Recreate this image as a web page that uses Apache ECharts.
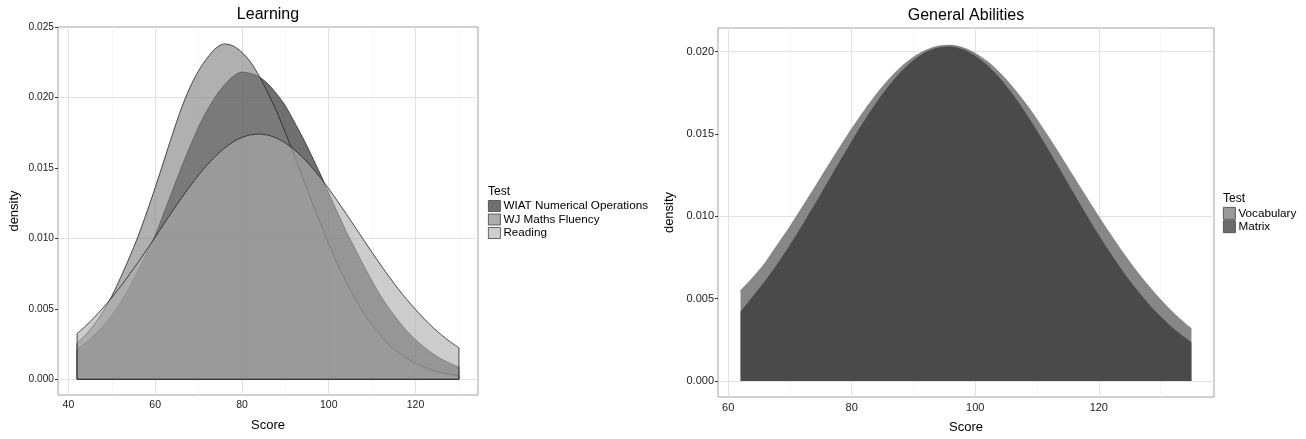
<!DOCTYPE html>
<html>
<head>
<meta charset="utf-8">
<script src="https://cdn.jsdelivr.net/npm/echarts@6/dist/echarts.min.js"></script>
<style>
html,body{margin:0;padding:0;background:#ffffff;}
#chart{width:1306px;height:439px;}
</style>
</head>
<body>
<div id="chart"></div>
<script>
// ---------- Learning panel data ----------
const learningScores = [42,44,46,48,50,52,54,56,58,60,62,64,66,68,70,72,74,76,78,80,82,84,86,88,90,92,94,96,98,100,102,104,106,108,110,112,114,116,118,120,122,124,126,128,130];
const wiatNumerical = [0.00215,0.0026,0.00315,0.0038,0.00455,0.00545,0.0065,0.0077,0.0089,0.0102,0.0118,0.0134,0.0150,0.0165,0.0179,0.0191,0.0201,0.0209,0.0215,0.0218,0.0217,0.02145,0.02095,0.02025,0.0194,0.0183,0.01715,0.0159,0.0146,0.0132,0.01185,0.0105,0.0093,0.0081,0.00695,0.0059,0.00498,0.00416,0.00343,0.0028,0.00227,0.00181,0.00143,0.00112,0.00087];
const wjMathsFluency = [0.00255,0.00315,0.0039,0.0048,0.0059,0.0072,0.0086,0.0101,0.0118,0.0136,0.0155,0.0174,0.0192,0.0207,0.0219,0.0228,0.0235,0.0238,0.02365,0.0232,0.0225,0.0215,0.0203,0.0190,0.0175,0.0159,0.0143,0.0127,0.0111,0.0096,0.0082,0.0069,0.00575,0.00473,0.00384,0.00308,0.00243,0.0019,0.00147,0.00112,0.00084,0.00063,0.00046,0.00033,0.00024];
const reading = [0.00324,0.00379,0.0044,0.00507,0.0058,0.00658,0.00741,0.00828,0.00917,0.01009,0.01102,0.01194,0.01283,0.01369,0.01449,0.01522,0.01586,0.01641,0.01685,0.01716,0.01735,0.0174,0.01732,0.01711,0.01677,0.01631,0.01574,0.01508,0.01434,0.01352,0.01265,0.01175,0.01083,0.00991,0.00899,0.0081,0.00724,0.00642,0.00566,0.00495,0.00429,0.00368,0.00314,0.00266,0.00223];
const learningXTicks = [40,60,80,100,120];
const learningXMinor = [50,70,90,110,130];
const learningYTicks = [0,0.005,0.010,0.015,0.020,0.025];
const learningYMinor = [0.0025,0.0075,0.0125,0.0175,0.0225];
const learningNames = ['WIAT Numerical Operations','WJ Maths Fluency','Reading'];

// ---------- General Abilities panel data ----------
const abilityScores = [62,64,66,68,70,72,74,76,78,80,82,84,86,88,90,92,94,96,98,100,102,104,106,108,110,112,114,116,118,120,122,124,126,128,130,132,134,135];
const vocabulary = [0.0055,0.0063,0.0072,0.0083,0.0094,0.01058,0.01177,0.01298,0.01417,0.01533,0.01642,0.01743,0.01832,0.01908,0.01968,0.0201,0.02035,0.0204,0.02025,0.01991,0.0194,0.01872,0.01789,0.01694,0.01589,0.01476,0.01358,0.01237,0.01117,0.00999,0.00885,0.00776,0.00674,0.00581,0.00495,0.00418,0.0035,0.0032];
const matrix = [0.0042,0.00514,0.00608,0.00712,0.00825,0.00945,0.0107,0.01199,0.01328,0.01455,0.01577,0.0169,0.01791,0.01878,0.01947,0.01996,0.02024,0.0203,0.02013,0.01974,0.01915,0.01837,0.01743,0.01635,0.01517,0.01392,0.01264,0.01134,0.01007,0.00884,0.00768,0.00659,0.0056,0.0047,0.00391,0.00321,0.00261,0.00234];
const abilityXTicks = [60,80,100,120];
const abilityXMinor = [70,90,110,130];
const abilityYTicks = [0,0.005,0.010,0.015,0.020];
const abilityYMinor = [0.0025,0.0075,0.0125,0.0175];
const abilityNames = ['Vocabulary','Matrix'];

// ---------- helpers ----------
const FONT = 'Liberation Sans, Arial, Helvetica, sans-serif';

function gridLines(xMajor, xMinor, yMajor, yMinor) {
  const major = {color: '#e2e2e2', width: 1.1, type: 'solid'};
  const minor = {color: '#f2f2f2', width: 0.7, type: 'solid'};
  const items = [];
  xMinor.forEach(v => items.push({xAxis: v, lineStyle: minor}));
  yMinor.forEach(v => items.push({yAxis: v, lineStyle: minor}));
  xMajor.forEach(v => items.push({xAxis: v, lineStyle: major}));
  yMajor.forEach(v => items.push({yAxis: v, lineStyle: major}));
  return items;
}

function gridSeries(idx, xMajor, xMinor, yMajor, yMinor) {
  return {
    type: 'line', xAxisIndex: idx, yAxisIndex: idx, data: [],
    silent: true, animation: false, z: 1,
    markLine: {
      silent: true, animation: false, z: 1, symbol: ['none', 'none'],
      label: {show: false}, emphasis: {disabled: true},
      data: gridLines(xMajor, xMinor, yMajor, yMinor)
    }
  };
}

// filled density curve (smooth top edge, vertical sides come from the area baseline)
function densitySeries(name, idx, xs, ys, fill, opacity, stroke, strokeWidth, z) {
  return {
    name: name, type: 'line', xAxisIndex: idx, yAxisIndex: idx,
    data: xs.map((x, i) => [x, ys[i]]),
    symbol: 'none', showSymbol: false, smooth: 0.3, silent: true, animation: false,
    lineStyle: {color: stroke, width: strokeWidth},
    itemStyle: {color: fill},
    areaStyle: {color: fill, opacity: opacity},
    emphasis: {disabled: true},
    z: z
  };
}

// outline of the two vertical sides and the base of a density polygon
function edgeSeries(idx, xs, ys, stroke, strokeWidth, z) {
  const n = xs.length - 1;
  return {
    type: 'line', xAxisIndex: idx, yAxisIndex: idx,
    data: [[xs[0], ys[0]], [xs[0], 0], [xs[n], 0], [xs[n], ys[n]]],
    symbol: 'none', showSymbol: false, smooth: false, silent: true, animation: false,
    lineStyle: {color: stroke, width: strokeWidth},
    emphasis: {disabled: true},
    z: z
  };
}

function xAxisCfg(idx, min, max, ticks, fontSize) {
  return {
    type: 'value', gridIndex: idx, min: min, max: max, splitNumber: 5,
    name: 'Score', nameLocation: 'middle', nameGap: 24,
    nameTextStyle: {fontSize: 13, color: '#000', fontFamily: FONT},
    axisLine: {show: false},
    axisTick: {show: true, length: 3, inside: false, customValues: ticks, lineStyle: {color: '#333', width: 1}},
    axisLabel: {show: true, margin: 5, customValues: ticks, color: '#222', fontSize: fontSize, fontFamily: FONT,
      formatter: v => (ticks.indexOf(v) >= 0 ? String(v) : '')},
    splitLine: {show: false}, minorSplitLine: {show: false}, minorTick: {show: false}
  };
}

function yAxisCfg(idx, min, max, ticks, fontSize, gap) {
  return {
    type: 'value', gridIndex: idx, min: min, max: max, splitNumber: 5,
    name: 'density', nameLocation: 'middle', nameGap: gap, nameRotate: 90,
    nameTextStyle: {fontSize: 13, color: '#000', fontFamily: FONT},
    axisLine: {show: false},
    axisTick: {show: true, length: 3, inside: false, customValues: ticks, lineStyle: {color: '#333', width: 1}},
    axisLabel: {show: true, margin: 4, customValues: ticks, color: '#222', fontSize: fontSize, fontFamily: FONT,
      formatter: v => {
        const hit = ticks.some(t => Math.abs(t - v) < 1e-9);
        return hit ? v.toFixed(3) : '';
      }},
    splitLine: {show: false}, minorSplitLine: {show: false}, minorTick: {show: false}
  };
}

const chart = echarts.init(document.getElementById('chart'), null, {renderer: 'canvas'});

const option = {
  animation: false,
  backgroundColor: '#ffffff',
  grid: [
    {left: 58, top: 27, width: 420, height: 368, show: true, borderColor: '#a3a3a3', borderWidth: 1, backgroundColor: '#ffffff', containLabel: false},
    {left: 718, top: 28, width: 496, height: 369, show: true, borderColor: '#a3a3a3', borderWidth: 1, backgroundColor: '#ffffff', containLabel: false}
  ],
  xAxis: [
    xAxisCfg(0, 37.6, 134.4, learningXTicks, 10.5),
    xAxisCfg(1, 58.35, 138.65, abilityXTicks, 11)
  ],
  yAxis: [
    yAxisCfg(0, -0.00112, 0.025, learningYTicks, 10.2, 37),
    yAxisCfg(1, -0.00097, 0.02144, abilityYTicks, 11, 42)
  ],
  legend: [
    {
      orient: 'vertical', left: 488, top: 200, padding: 0,
      itemWidth: 12, itemHeight: 11, itemGap: 1.5, selectedMode: false,
      textStyle: {fontSize: 11.7, color: '#000', fontFamily: FONT, padding: [0, 0, 0, -2]},
      data: [
        {name: learningNames[0], icon: 'rect', itemStyle: {color: '#707070', borderColor: '#444', borderWidth: 0.8}},
        {name: learningNames[1], icon: 'rect', itemStyle: {color: '#adadad', borderColor: '#444', borderWidth: 0.8}},
        {name: learningNames[2], icon: 'rect', itemStyle: {color: '#cfcfcf', borderColor: '#444', borderWidth: 0.8}}
      ]
    },
    {
      orient: 'vertical', left: 1223, top: 207, padding: 0,
      itemWidth: 12, itemHeight: 12, itemGap: 0.5, selectedMode: false,
      textStyle: {fontSize: 11.7, color: '#000', fontFamily: FONT, padding: [0, 0, 0, -2]},
      data: [
        {name: abilityNames[0], icon: 'rect', itemStyle: {color: '#9a9a9a', borderColor: '#444', borderWidth: 0.8}},
        {name: abilityNames[1], icon: 'rect', itemStyle: {color: '#6b6b6b', borderColor: '#444', borderWidth: 0.8}}
      ]
    }
  ],
  graphic: [
    {type: 'text', x: 268, y: 15, silent: true, style: {text: 'Learning', align: 'center', verticalAlign: 'middle', font: '16px ' + FONT, fill: '#000'}},
    {type: 'text', x: 966, y: 16, silent: true, style: {text: 'General Abilities', align: 'center', verticalAlign: 'middle', font: '16px ' + FONT, fill: '#000'}},
    {type: 'text', x: 488, y: 192, silent: true, style: {text: 'Test', align: 'left', verticalAlign: 'middle', font: '12px ' + FONT, fill: '#000'}},
    {type: 'text', x: 1223, y: 199, silent: true, style: {text: 'Test', align: 'left', verticalAlign: 'middle', font: '12px ' + FONT, fill: '#000'}}
  ],
  series: [
    gridSeries(0, learningXTicks, learningXMinor, learningYTicks, learningYMinor),
    gridSeries(1, abilityXTicks, abilityXMinor, abilityYTicks, abilityYMinor),
    densitySeries(learningNames[0], 0, learningScores, wiatNumerical, '#191919', 0.622, '#222', 0.8, 2),
    edgeSeries(0, learningScores, wiatNumerical, '#222', 0.8, 2),
    densitySeries(learningNames[1], 0, learningScores, wjMathsFluency, '#808080', 0.622, '#222', 0.8, 3),
    edgeSeries(0, learningScores, wjMathsFluency, '#222', 0.8, 3),
    densitySeries(learningNames[2], 0, learningScores, reading, '#adadad', 0.622, '#222', 0.8, 4),
    edgeSeries(0, learningScores, reading, '#222', 0.8, 4),
    densitySeries(abilityNames[0], 1, abilityScores, vocabulary, '#696969', 0.8, 'rgba(90,90,90,0.6)', 0.6, 2),
    densitySeries(abilityNames[1], 1, abilityScores, matrix, '#3b3b3b', 0.8, 'rgba(60,60,60,0.6)', 0.6, 3)
  ]
};

chart.setOption(option);
</script>
</body>
</html>
